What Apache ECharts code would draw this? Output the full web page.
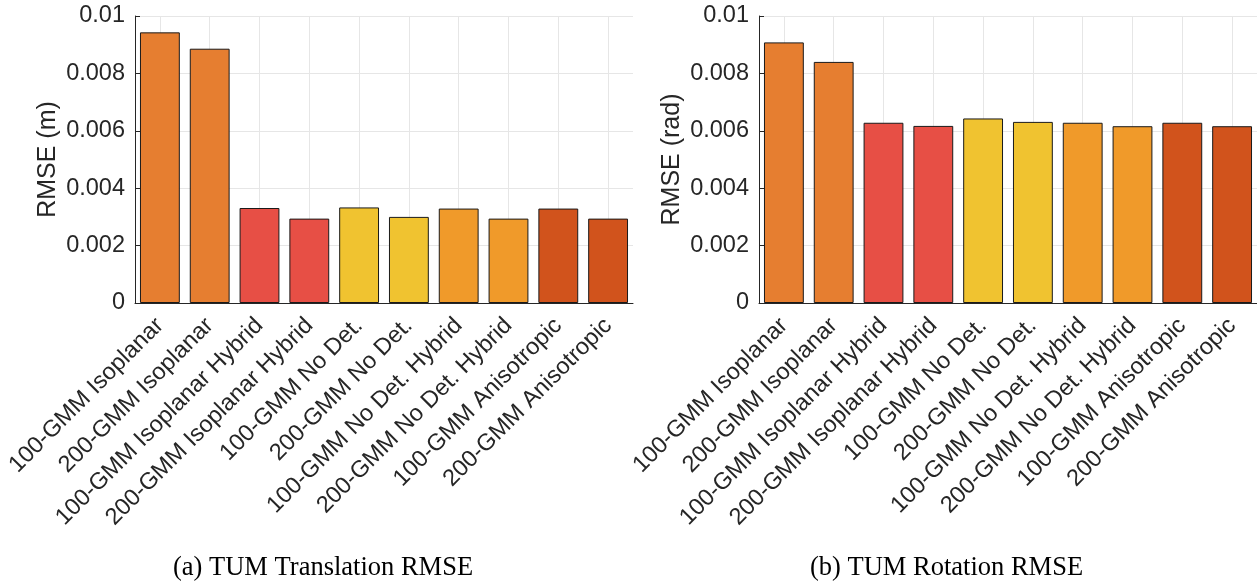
<!DOCTYPE html>
<html>
<head>
<meta charset="utf-8">
<script src="https://cdn.jsdelivr.net/npm/echarts@6/dist/echarts.min.js"></script>
<style>
html,body{margin:0;padding:0;background:#fff;}
#chart{width:1257px;height:582px;}
</style>
</head>
<body>
<div id="chart"></div>
<script>
const categories = [
  '100-GMM Isoplanar', '200-GMM Isoplanar',
  '100-GMM Isoplanar Hybrid', '200-GMM Isoplanar Hybrid',
  '100-GMM No Det.', '200-GMM No Det.',
  '100-GMM No Det. Hybrid', '200-GMM No Det. Hybrid',
  '100-GMM Anisotropic', '200-GMM Anisotropic'
];
const translationRMSE = [0.00943, 0.00886, 0.00331, 0.00294, 0.00333, 0.00300, 0.00329, 0.00294, 0.00329, 0.00294];
const rotationRMSE = [0.00908, 0.00840, 0.00628, 0.00617, 0.00643, 0.00631, 0.00628, 0.00616, 0.00628, 0.00616];
const yTicks = { min: 0, max: 0.01, interval: 0.002 };
const captions = ['(a) TUM Translation RMSE', '(b) TUM Rotation RMSE'];
const yNames = ['RMSE (m)', 'RMSE (rad)'];

const barColors = ['#E67E30', '#E67E30', '#E74F45', '#E74F45', '#F0C330', '#F0C330', '#F09A2A', '#F09A2A', '#D1531C', '#D1531C'];
const textColor = '#262626';
const tickFont = 'Liberation Sans, Arial, Helvetica, sans-serif';
const capFont = 'Liberation Serif, Times New Roman, serif';

const chart = echarts.init(document.getElementById('chart'), null, { renderer: 'canvas' });

function xAxisCfg(gi) {
  return {
    type: 'category', gridIndex: gi, data: categories,
    axisLine: { show: true, lineStyle: { color: textColor, width: 1 } },
    axisTick: { show: false },
    axisLabel: { interval: 0, rotate: 45, fontSize: 23.5, color: textColor, fontFamily: tickFont, margin: 19, hideOverlap: false },
    splitLine: { show: true, alignWithLabel: true, lineStyle: { color: '#e6e6e6', width: 1 } }
  };
}
function yAxisCfg(gi) {
  return {
    type: 'value', gridIndex: gi, min: yTicks.min, max: yTicks.max, interval: yTicks.interval,
    name: yNames[gi], nameLocation: 'middle', nameGap: 74,
    nameTextStyle: { fontSize: 25, color: textColor, fontFamily: tickFont },
    axisLine: { show: true, lineStyle: { color: textColor, width: 1 } },
    axisTick: { show: true, inside: true, length: 5, lineStyle: { color: textColor } },
    axisLabel: { fontSize: 23.5, color: textColor, fontFamily: tickFont, margin: 10,
      formatter: v => String(+v.toFixed(4)) },
    splitLine: { show: true, lineStyle: { color: '#e6e6e6', width: 1 } }
  };
}
function barSeries(gi, vals) {
  return {
    type: 'bar', xAxisIndex: gi, yAxisIndex: gi, barCategoryGap: '20%',
    data: vals.map((v, i) => ({ value: v, itemStyle: { color: barColors[i] } })),
    itemStyle: { borderColor: '#1a1a1a', borderWidth: 1 },
    emphasis: { disabled: true }
  };
}

chart.setOption({
  animation: false,
  backgroundColor: '#ffffff',
  grid: [
    { left: 135, top: 16, width: 498, height: 287, containLabel: false, outerBoundsMode: 'none' },
    { left: 759, top: 16, width: 498, height: 287, containLabel: false, outerBoundsMode: 'none' }
  ],
  xAxis: [xAxisCfg(0), xAxisCfg(1)],
  yAxis: [yAxisCfg(0), yAxisCfg(1)],
  series: [barSeries(0, translationRMSE), barSeries(1, rotationRMSE)],
  graphic: [
    { type: 'text', left: 173, top: 555, style: { text: captions[0], fontSize: 26.5, fontFamily: capFont, fill: '#000' } },
    { type: 'text', left: 810, top: 555, style: { text: captions[1], fontSize: 26.5, fontFamily: capFont, fill: '#000' } }
  ]
});
</script>
</body>
</html>
